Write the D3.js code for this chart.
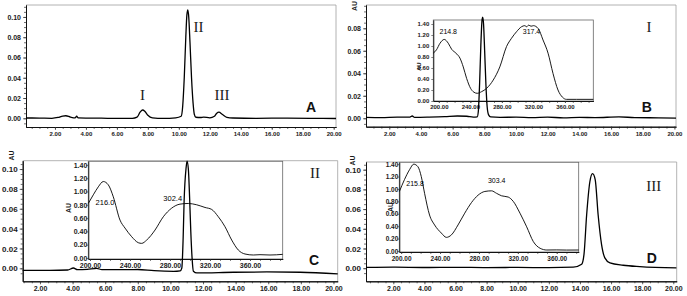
<!DOCTYPE html>
<html>
<head>
<meta charset="utf-8">
<script src="https://cdn.jsdelivr.net/npm/d3@7"></script>
<style>
  body { margin: 0; background: #fff; }
  svg { display: block; }
  .lbl { font-family: "Liberation Sans", Arial, sans-serif; font-weight: bold; fill: #1a1a1a; }
  .numeral { font-family: "Liberation Serif", "Times New Roman", serif; fill: #1a1a1a; }
  .letter { font-family: "Liberation Sans", Arial, sans-serif; font-weight: bold; fill: #111; }
  .maxima { font-family: "Liberation Sans", Arial, sans-serif; fill: #000; }
</style>
</head>
<body>
<div id="chart"></div>
<script>
// ---- data ----
// chromatograms: [time (min), absorbance (AU)]
const traceA = [
  [0.13, 0.0003], [1.0, 0.0002], [1.8, 0.0000], [2.2, 0.0008], [2.5, 0.0022], [2.7, 0.0025],
  [3.0, 0.0012], [3.3, 0.0004], [3.4, 0.0020], [3.5, 0.0004], [4.0, 0.0002], [5.0, 0.0001],
  [6.0, -0.0001], [7.0, 0.0000], [7.3, 0.0012], [7.5, 0.0060], [7.66, 0.0082], [7.8, 0.0070],
  [8.0, 0.0030], [8.3, 0.0005], [9.0, 0.0000], [9.8, 0.0005], [10.15, 0.0020], [10.25, 0.012],
  [10.35, 0.040], [10.45, 0.080], [10.52, 0.102], [10.58, 0.107], [10.64, 0.100], [10.72, 0.075],
  [10.82, 0.040], [10.92, 0.015], [11.0, 0.004], [11.1, 0.0010], [11.4, 0.0008], [11.6, 0.0012],
  [12.0, 0.0005], [12.3, 0.0020], [12.45, 0.0050], [12.59, 0.0060], [12.8, 0.0040], [13.1, 0.0010],
  [13.5, 0.0003], [15.0, 0.0000], [17.0, 0.0002], [18.5, 0.0000], [20.15, -0.0002]
];
const traceB = [
  [0.53, 0.0008], [1.5, 0.0006], [2.5, 0.0010], [3.3, 0.0010], [3.45, 0.0020], [3.6, 0.0008],
  [4.5, 0.0010], [5.5, 0.0014], [6.3, 0.0020], [6.9, 0.0018], [7.3, 0.0010], [7.55, 0.0012],
  [7.62, 0.006], [7.70, 0.030], [7.78, 0.065], [7.86, 0.088], [7.90, 0.090], [7.95, 0.084],
  [8.02, 0.060], [8.10, 0.030], [8.18, 0.010], [8.27, 0.003], [8.4, 0.0012], [9.0, 0.0008],
  [10.0, 0.0010], [11.0, 0.0006], [12.0, 0.0010], [13.0, 0.0004], [14.0, 0.0008], [15.0, 0.0006],
  [16.5, 0.0012], [17.5, 0.0006], [19.0, 0.0004], [20.1, 0.0002]
];
const traceC = [
  [0.94, -0.0020], [2.6, -0.0020], [3.7, -0.0017], [4.05, 0.0003], [4.3, -0.0014], [4.9, -0.0010],
  [5.48, 0.0000], [5.8, -0.0014], [7.5, -0.0014], [8.0, -0.0012], [9.0, -0.0024], [10.2, -0.0030],
  [10.6, -0.0025], [10.7, 0.0003], [10.78, 0.030], [10.84, 0.0675], [10.96, 0.101], [11.02, 0.108],
  [11.1, 0.100], [11.18, 0.070], [11.25, 0.037], [11.33, 0.010], [11.41, -0.003], [11.62, -0.0047],
  [13.87, -0.0040], [15.92, -0.0037], [17.96, -0.0040], [20.26, -0.0057]
];
const traceD = [
  [0.25, 0.0008], [2.0, 0.0010], [4.0, 0.0007], [6.0, 0.0009], [8.0, 0.0006], [10.0, 0.0008],
  [12.0, 0.0005], [13.57, 0.0010], [14.11, 0.004], [14.26, 0.014], [14.43, 0.054], [14.64, 0.088],
  [14.81, 0.096], [14.98, 0.090], [15.17, 0.054], [15.39, 0.024], [15.6, 0.0105], [15.93, 0.0054],
  [16.78, 0.0030], [17.85, 0.0016], [20.2, 0.0003]
];

// UV spectra of the three peaks: [wavelength (nm), absorbance (AU)]
const spectrumI = [
  [193, 0.87], [197, 0.93], [201.5, 1.05], [206.9, 1.12], [212, 1.05], [216.3, 0.94], [221.7, 0.87],
  [226.8, 0.78], [231, 0.62], [235.3, 0.41], [240.3, 0.23], [244.5, 0.16], [248.7, 0.14], [254.3, 0.17],
  [260.6, 0.23], [269, 0.38], [277.4, 0.62], [285.9, 0.99], [292.2, 1.14], [298.6, 1.26], [304.9, 1.35],
  [309.1, 1.37], [311.5, 1.35], [314, 1.38], [317, 1.36], [320, 1.37], [326, 1.32], [332.2, 1.11],
  [338.6, 0.87], [344.9, 0.50], [351.2, 0.20], [356.8, 0.07], [361.9, 0.03], [375, 0.03], [396, 0.03]
];
const spectrumII = [
  [198.3, 0.82], [203.3, 0.95], [208.3, 1.07], [213.3, 1.15], [218.3, 1.10], [223.3, 0.92], [230, 0.57],
  [235, 0.45], [241.7, 0.32], [248.3, 0.23], [251.7, 0.22], [256.7, 0.27], [265, 0.42], [273.3, 0.62],
  [281.7, 0.75], [290, 0.81], [298.3, 0.82], [306.7, 0.80], [315, 0.76], [321.7, 0.73], [328.3, 0.62],
  [335, 0.47], [341.7, 0.27], [348.3, 0.12], [355, 0.06], [363.3, 0.045], [370, 0.05], [380, 0.045],
  [392.7, 0.055]
];
const spectrumIII = [
  [198.2, 0.96], [203.4, 1.15], [208.6, 1.31], [213, 1.40], [217.2, 1.36], [220.7, 1.20], [224.1, 0.93],
  [229.2, 0.58], [234.4, 0.42], [241.3, 0.29], [246.5, 0.22], [251.7, 0.26], [258.5, 0.42], [265.4, 0.61],
  [272.3, 0.78], [279.1, 0.90], [286.1, 0.96], [293, 0.97], [298.1, 0.93], [303.3, 0.89], [310.1, 0.87],
  [315.3, 0.80], [322.2, 0.61], [329.1, 0.39], [336, 0.15], [342.9, 0.044], [349.8, 0.016], [360, 0.018],
  [370, 0.015], [382.6, 0.016]
];

// peak maxima printed on the spectra
const maximaI = ["214.8", "317.4"];
const maximaII = ["216.0", "302.4"];
const maximaIII = ["215.8", "303.4"];

// tick labels
const timeTicks = [2, 4, 6, 8, 10, 12, 14, 16, 18, 20];
const auTicks = [0, 0.02, 0.04, 0.06, 0.08, 0.10];
const wavelengthTicks = [200, 240, 280, 320, 360];
const spectrumTicks = [0, 0.2, 0.4, 0.6, 0.8, 1.0, 1.2, 1.4];
const peakNames = ["I", "II", "III"];
const panelNames = ["A", "B", "C", "D"];

// ---- layout ----
const W = 687, H = 296;
const svg = d3.select("#chart").append("svg").attr("width", W).attr("height", H);
const fmt = d3.format(".2f");

const panels = [
  { trace: traceA, name: panelNames[0], left: 26, right: 336, top: 5, bottom: 127,
    time: [0.13, 20.15], au: [-0.0086, 0.1118], maxLabel: 0.1, yFont: 7, xFont: 6, auLabel: null,
    letter: [311, 111.7],
    numerals: [{ t: peakNames[0], x: 142.5, y: 100 }, { t: peakNames[1], x: 198.5, y: 31.7 }, { t: peakNames[2], x: 222, y: 100 }] },
  { trace: traceB, name: panelNames[1], left: 366, right: 676, top: 5, bottom: 126.7,
    time: [0.53, 20.1], au: [-0.0075, 0.1007], maxLabel: 0.08, yFont: 7, xFont: 6, auLabel: [355, 6],
    letter: [646.7, 111.7], numerals: [{ t: peakNames[0], x: 649, y: 31.7 }],
    inset: { spec: spectrumI, maxima: maximaI, left: 433.3, right: 593.3, top: 20, bottom: 101,
      nm: [193, 396], au: [0, 1.473], font: 6, yLabelGap: 2, peakFont: 7,
      maxPos: [[212, 1.26], [317.6, 1.26]], auLabel: [419.5, 66.7] } },
  { trace: traceC, name: panelNames[2], left: 22.7, right: 337.7, top: 160.7, bottom: 281.3,
    time: [0.94, 20.26], au: [-0.0131, 0.1084], maxLabel: 0.1, yFont: 8, xFont: 7, auLabel: [12, 155.5],
    letter: [314, 264.7], numerals: [{ t: peakNames[1], x: 315, y: 178 }],
    inset: { spec: spectrumII, maxima: maximaII, left: 88.3, right: 282.7, top: 161.3, bottom: 259,
      nm: [198.3, 392.7], au: [-0.015, 1.454], font: 7, yLabelGap: -1, peakFont: 7.5,
      maxPos: [[215, 0.82], [282.7, 0.88]], auLabel: [69, 208] } },
  { trace: traceD, name: panelNames[3], left: 366, right: 676.7, top: 162, bottom: 281.3,
    time: [0.245, 20.22], au: [-0.0133, 0.1078], maxLabel: 0.1, yFont: 8, xFont: 7, auLabel: [353.3, 160.5],
    letter: [651.7, 263], numerals: [{ t: peakNames[2], x: 653.7, y: 190.7 }],
    inset: { spec: spectrumIII, maxima: maximaIII, left: 399.3, right: 578.7, top: 162.3, bottom: 252,
      nm: [198.1, 382.6], au: [-0.016, 1.43], font: 6.5, yLabelGap: -1, peakFont: 7,
      maxPos: [[214.3, 1.08], [298.3, 1.12]], auLabel: [391.7, 207] } }
];

panels.forEach(drawPanel);

function drawPanel(p) {
  const x = d3.scaleLinear().domain(p.time).range([p.left, p.right]);
  const y = d3.scaleLinear().domain(p.au).range([p.bottom, p.top]);
  const g = svg.append("g");

  // light top/right frame
  g.append("path")
    .attr("d", `M${p.left},${p.top}H${p.right}V${p.bottom}`)
    .attr("fill", "none").attr("stroke", "#a0a0a0").attr("stroke-width", 0.8);

  // y axis: minor ticks every 0.005, labels every 0.02
  const yMinor = d3.range(-0.005, p.au[1], 0.005).filter(v => v > p.au[0]);
  g.append("g").attr("transform", `translate(${p.left},0)`)
    .call(d3.axisLeft(y).tickValues(yMinor).tickSize(2).tickSizeOuter(0).tickFormat(""));
  g.append("g").attr("transform", `translate(${p.left},0)`)
    .call(d3.axisLeft(y).tickValues(auTicks.filter(v => v <= p.maxLabel + 1e-9))
      .tickSize(3).tickSizeOuter(0).tickPadding(2).tickFormat(fmt))
    .call(a => a.selectAll("text").attr("class", "lbl").style("font-size", p.yFont + "px"));

  // x axis: ticks every 0.5 min, labels every 2
  const xMinor = d3.range(0.5, p.time[1], 0.5).filter(v => v > p.time[0]);
  g.append("g").attr("transform", `translate(0,${p.bottom})`)
    .call(d3.axisBottom(x).tickValues(xMinor).tickSize(2).tickSizeOuter(0).tickFormat(""));
  g.append("g").attr("transform", `translate(0,${p.bottom})`)
    .call(d3.axisBottom(x).tickValues(timeTicks).tickSize(3).tickSizeOuter(0).tickPadding(2).tickFormat(fmt))
    .call(a => a.selectAll("text").attr("class", "lbl").style("font-size", p.xFont + "px"));

  g.selectAll(".domain").attr("stroke", "#111").attr("stroke-width", 1);
  g.selectAll(".tick line").attr("stroke", "#333").attr("stroke-width", 0.7);

  if (p.auLabel) {
    g.append("text").attr("class", "lbl")
      .attr("transform", `translate(${p.auLabel[0]},${p.auLabel[1]}) rotate(-90)`)
      .attr("text-anchor", "middle").attr("dominant-baseline", "middle")
      .style("font-size", "7px").text("AU");
  }

  if (p.inset) drawInset(g, p.inset);

  // chromatogram trace on top of the inset
  const line = d3.line().x(d => x(d[0])).y(d => y(d[1])).curve(d3.curveMonotoneX);
  g.append("path").datum(p.trace)
    .attr("d", line)
    .attr("fill", "none").attr("stroke", "#000").attr("stroke-width", 1.3)
    .attr("stroke-linejoin", "round");

  // peak numerals and panel letter
  p.numerals.forEach(n => {
    g.append("text").attr("class", "numeral")
      .attr("x", n.x).attr("y", n.y).attr("text-anchor", "middle")
      .style("font-size", "15px").text(n.t);
  });
  g.append("text").attr("class", "letter")
    .attr("x", p.letter[0]).attr("y", p.letter[1]).attr("text-anchor", "middle")
    .style("font-size", "14px").text(p.name);
}

function drawInset(g, s) {
  const x = d3.scaleLinear().domain(s.nm).range([s.left, s.right]);
  const y = d3.scaleLinear().domain(s.au).range([s.bottom, s.top]);
  const ig = g.append("g");

  ig.append("rect")
    .attr("x", s.left).attr("y", s.top)
    .attr("width", s.right - s.left).attr("height", s.bottom - s.top)
    .attr("fill", "#fff").attr("stroke", "#666").attr("stroke-width", 0.8);

  ig.append("g").attr("transform", `translate(${s.left},0)`)
    .call(d3.axisLeft(y).tickValues(spectrumTicks).tickSize(2).tickSizeOuter(0)
      .tickPadding(s.yLabelGap).tickFormat(fmt))
    .call(a => a.selectAll("text").attr("class", "lbl").style("font-size", s.font + "px"));

  ig.append("g").attr("transform", `translate(0,${s.bottom})`)
    .call(d3.axisBottom(x).tickValues(d3.range(200, s.nm[1], 10)).tickSize(2).tickSizeOuter(0).tickFormat(""));
  ig.append("g").attr("transform", `translate(0,${s.bottom})`)
    .call(d3.axisBottom(x).tickValues(wavelengthTicks).tickSize(2).tickSizeOuter(0).tickPadding(2).tickFormat(fmt))
    .call(a => a.selectAll("text").attr("class", "lbl").style("font-size", s.font + "px"));

  ig.selectAll(".domain").attr("stroke", "#111").attr("stroke-width", 0.9);
  ig.selectAll(".tick line").attr("stroke", "#333").attr("stroke-width", 0.6);

  ig.append("text").attr("class", "lbl")
    .attr("transform", `translate(${s.auLabel[0]},${s.auLabel[1]}) rotate(-90)`)
    .attr("text-anchor", "middle").attr("dominant-baseline", "middle")
    .style("font-size", s.font + "px").text("AU");

  const line = d3.line().x(d => x(d[0])).y(d => y(d[1])).curve(d3.curveMonotoneX);
  ig.append("path").datum(s.spec)
    .attr("d", line)
    .attr("fill", "none").attr("stroke", "#000").attr("stroke-width", 0.9);

  // wavelength of each maximum
  s.maxima.forEach((m, i) => {
    ig.append("text").attr("class", "maxima")
      .attr("x", x(s.maxPos[i][0])).attr("y", y(s.maxPos[i][1]))
      .attr("text-anchor", "middle").attr("dominant-baseline", "middle")
      .style("font-size", s.peakFont + "px").text(m);
  });
}
</script>
</body>
</html>
